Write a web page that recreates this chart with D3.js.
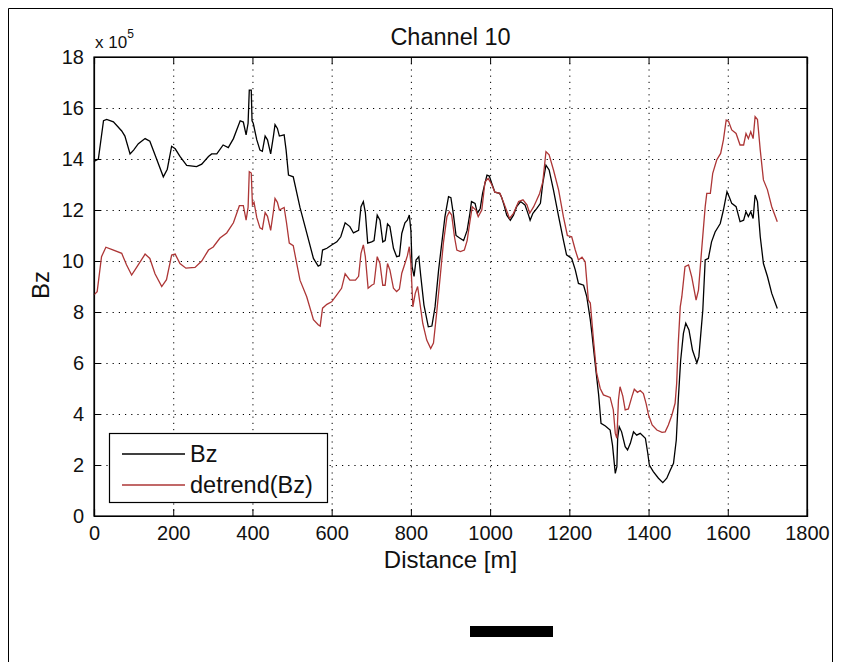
<!DOCTYPE html>
<html><head><meta charset="utf-8">
<script src="https://cdn.jsdelivr.net/npm/d3@7"></script>
<style>body{margin:0;background:#fff}svg{display:block}text{font-family:"Liberation Sans",Arial,sans-serif;fill:#111}</style>
</head><body><svg id="c" width="848" height="662"></svg>
<script>
const bzDist=[0,11,24,32,49,70,78,91,100,112,129,141,158,175,185,196,205,217,234,259,272,289,297,310,326,339,352,369,377,384,389,392,397,399,402,411,419,425,432,438,446,453,457,463,468,480,485,491,503,520,537,554,566,572,577,588,600,613,623,634,646,655,668,674,680,685,691,701,707,715,722,729,735,741,747,756,764,771,777,785,791,796,800,803,808,813,820,825,833,844,853,861,870,878,886,895,901,907,914,923,933,942,949,953,962,968,975,981,992,998,1004,1012,1024,1029,1035,1042,1051,1059,1067,1077,1088,1097,1101,1108,1118,1127,1133,1141,1149,1160,1173,1185,1193,1206,1215,1223,1236,1244,1253,1257,1265,1274,1280,1291,1303,1309,1316,1320,1322,1326,1332,1341,1347,1354,1362,1370,1379,1392,1398,1402,1412,1425,1436,1446,1455,1463,1470,1475,1481,1488,1494,1502,1511,1522,1527,1532,1537,1543,1551,1559,1568,1581,1589,1598,1604,1610,1621,1631,1640,1646,1652,1658,1664,1669,1675,1682,1690,1700,1711,1725];
const bzVal=[13.9,14.0,15.5,15.55,15.46,15.1,14.9,14.2,14.35,14.6,14.8,14.7,14.0,13.3,13.6,14.5,14.4,14.1,13.75,13.7,13.8,14.1,14.2,14.2,14.55,14.45,14.8,15.5,15.45,14.95,15.4,16.7,16.7,15.5,15.4,14.75,14.35,14.3,14.9,14.75,14.2,14.9,15.35,15.2,14.9,14.95,14.35,13.37,13.3,12.1,11.1,10.1,9.8,9.85,10.43,10.5,10.63,10.75,10.95,11.5,11.35,11.1,11.2,12.13,12.33,11.9,10.7,10.75,10.8,11.8,11.6,10.75,10.8,11.45,11.35,10.5,10.17,10.2,11.08,11.5,11.6,11.8,11.2,9.78,9.4,10.04,10.17,9.4,8.27,7.42,7.45,8.2,9.65,10.7,11.74,12.52,12.48,11.87,11.0,10.9,10.8,11.2,11.87,12.33,12.26,11.87,12.06,12.65,13.37,13.33,13.05,12.7,12.65,12.5,12.2,11.8,11.6,11.8,12.13,12.33,12.2,11.8,11.6,11.87,12.06,12.26,13.05,13.76,13.57,12.78,11.74,10.82,10.24,10.1,9.65,9.12,9.05,8.6,7.69,7.16,6.0,4.75,3.63,3.53,3.37,2.78,1.67,1.93,3.05,3.5,3.3,2.72,2.59,2.85,3.3,3.17,3.24,3.05,2.46,2.0,1.74,1.48,1.31,1.48,1.8,2.07,2.98,4.55,6.1,7.16,7.56,7.3,6.5,6.0,6.25,7.16,8.08,10.04,10.1,10.75,11.14,11.47,12.0,12.72,12.5,12.26,12.13,11.54,11.6,11.93,11.74,11.93,11.67,12.59,12.33,10.95,9.9,9.4,8.73,8.14];
const detDist=[0,8,19,30,46,70,82,95,108,129,141,154,171,183,196,205,217,232,255,272,289,301,318,335,352,367,377,384,389,392,397,400,404,411,419,425,432,438,446,453,457,463,468,480,486,493,503,520,537,554,566,571,577,588,600,613,625,634,646,660,668,674,680,685,692,701,707,715,722,729,735,741,747,756,764,771,777,785,791,796,800,805,811,817,823,830,840,850,857,865,874,882,891,897,903,910,916,925,935,942,949,955,964,970,979,987,995,1004,1012,1025,1035,1049,1059,1072,1083,1093,1100,1110,1118,1125,1133,1141,1149,1160,1173,1185,1195,1206,1215,1223,1232,1240,1248,1253,1261,1269,1278,1286,1303,1311,1316,1320,1324,1328,1335,1341,1349,1358,1364,1372,1379,1387,1394,1400,1409,1421,1434,1442,1450,1459,1467,1471,1475,1480,1484,1492,1501,1509,1520,1526,1534,1543,1547,1556,1562,1572,1582,1589,1596,1602,1610,1621,1631,1640,1646,1652,1658,1664,1669,1675,1682,1690,1700,1711,1725];
const detVal=[8.67,8.8,10.17,10.54,10.45,10.3,9.85,9.45,9.76,10.27,10.1,9.5,9.0,9.27,10.23,10.27,9.9,9.72,9.75,10.0,10.43,10.55,10.9,11.1,11.5,12.17,12.17,11.6,12.1,13.5,13.45,12.2,12.3,11.7,11.3,11.25,11.9,11.75,11.2,11.95,12.45,12.3,12.0,12.1,11.5,10.7,10.6,9.25,8.6,7.7,7.5,7.45,8.15,8.3,8.4,8.67,8.93,9.5,9.25,9.25,9.4,10.3,10.63,10.17,8.93,9.05,9.1,10.17,9.9,9.05,9.05,9.9,9.65,8.93,8.8,8.9,9.52,9.9,10.2,10.56,9.9,8.2,8.73,9.0,8.33,7.55,6.9,6.57,6.78,7.95,9.38,10.7,11.74,11.93,11.8,10.95,10.43,10.37,10.43,10.8,11.54,12.13,12.0,11.74,12.0,13.1,13.24,13.0,12.7,12.65,12.26,11.67,11.87,12.33,12.4,12.2,11.87,12.13,12.4,12.65,13.1,14.29,14.16,13.57,12.78,11.74,11.0,10.95,10.43,10.04,10.15,9.97,8.47,8.35,6.9,5.6,5.0,4.75,4.65,4.16,3.24,3.05,4.55,5.07,4.7,4.16,4.2,4.68,4.97,4.85,4.92,4.8,4.4,3.96,3.57,3.37,3.28,3.3,3.57,3.96,4.42,5.2,6.77,8.2,8.6,9.78,9.85,9.38,8.47,8.86,10.43,12.13,12.65,12.65,13.44,13.96,14.22,14.75,15.53,15.47,15.14,15.0,14.55,14.55,15.0,14.8,15.07,14.8,15.66,15.55,14.35,13.18,12.8,12.13,11.54];
const xTicks=[0,200,400,600,800,1000,1200,1400,1600,1800];
const yTicks=[0,2,4,6,8,10,12,14,16,18];
const seriesNames=["Bz","detrend(Bz)"];
const titleText="Channel 10", xLabel="Distance [m]", yLabel="Bz";

const svg=d3.select("#c");
const L=94,R=807,T=57,B=516;
const x=d3.scaleLinear().domain([0,1800]).range([L,R]);
const y=d3.scaleLinear().domain([0,18]).range([B,T]);
const colors=["#000000","#ad3636"];

// outer frame
svg.append("path").attr("d","M8.5,662 V8.5 H832.5 V662").attr("fill","none").attr("stroke","#000").attr("stroke-width",1);

// grid
const g=svg.append("g");
g.selectAll(".gx").data(xTicks.slice(1,-1)).join("line").attr("x1",d=>x(d)+0.5).attr("x2",d=>x(d)+0.5).attr("y1",T).attr("y2",B)
 .attr("stroke","#000").attr("stroke-width",1).attr("stroke-dasharray","1.2,5");
g.selectAll(".gy").data(yTicks.slice(1,-1)).join("line").attr("y1",d=>Math.round(y(d))+0.5).attr("y2",d=>Math.round(y(d))+0.5).attr("x1",L).attr("x2",R)
 .attr("stroke","#000").attr("stroke-width",1).attr("stroke-dasharray","1.2,5");

// axes with inward ticks
const ax=svg.append("g");
ax.append("g").attr("transform",`translate(0,${B})`).call(d3.axisBottom(x).tickValues(xTicks).tickSize(-7).tickPadding(10).tickFormat(d3.format("d")));
ax.append("g").attr("transform",`translate(0,${T})`).call(d3.axisTop(x).tickValues(xTicks).tickSize(-7).tickFormat(""));
ax.append("g").attr("transform",`translate(${L},0)`).call(d3.axisLeft(y).tickValues(yTicks).tickSize(-7).tickPadding(10).tickFormat(d3.format("d")));
ax.append("g").attr("transform",`translate(${R},0)`).call(d3.axisRight(y).tickValues(yTicks).tickSize(-7).tickFormat(""));
ax.selectAll(".domain").attr("stroke","#000").attr("stroke-width",1.2);
ax.selectAll(".tick line").attr("stroke","#000");
ax.selectAll(".tick text").attr("font-size",20).attr("font-family","Liberation Sans, Arial, sans-serif").attr("fill","#111");

// lines
const line=d3.line().x(d=>x(d[0])).y(d=>y(d[1]));
const sBz=bzDist.map((d,i)=>[d,bzVal[i]]);
const sDet=detDist.map((d,i)=>[d,detVal[i]]);
svg.append("path").datum(sBz).attr("d",line).attr("fill","none").attr("stroke",colors[0]).attr("stroke-width",1.3);
svg.append("path").datum(sDet).attr("d",line).attr("fill","none").attr("stroke",colors[1]).attr("stroke-width",1.3);

// redraw box on top
svg.append("rect").attr("x",L).attr("y",T).attr("width",R-L).attr("height",B-T).attr("fill","none").attr("stroke","#000").attr("stroke-width",1.2);

// texts
svg.append("text").attr("x",(L+R)/2).attr("y",45).attr("text-anchor","middle").attr("font-size",23.5).text(titleText);
svg.append("text").attr("x",(L+R)/2).attr("y",568).attr("text-anchor","middle").attr("font-size",24).text(xLabel);
svg.append("text").attr("transform","translate(49,285) rotate(-90)").attr("text-anchor","middle").attr("font-size",24).text(yLabel);
const ex=svg.append("text").attr("x",95).attr("y",48).attr("font-size",17);
ex.append("tspan").text("x 10");
ex.append("tspan").attr("dy",-10).attr("font-size",12).text("5");

// legend
const lg=svg.append("g");
lg.append("rect").attr("x",109.5).attr("y",433.5).attr("width",218).attr("height",69).attr("fill","#fff").attr("stroke","#000").attr("stroke-width",1.2);
seriesNames.forEach((n,i)=>{
  const yy=454+i*31;
  lg.append("line").attr("x1",122).attr("x2",185).attr("y1",yy).attr("y2",yy).attr("stroke",colors[i]).attr("stroke-width",1.3);
  lg.append("text").attr("x",190).attr("y",yy+8).attr("font-size",23.5).text(n);
});

// black bar
svg.append("rect").attr("x",470).attr("y",626).attr("width",83).attr("height",11).attr("fill","#000");
</script></body></html>
